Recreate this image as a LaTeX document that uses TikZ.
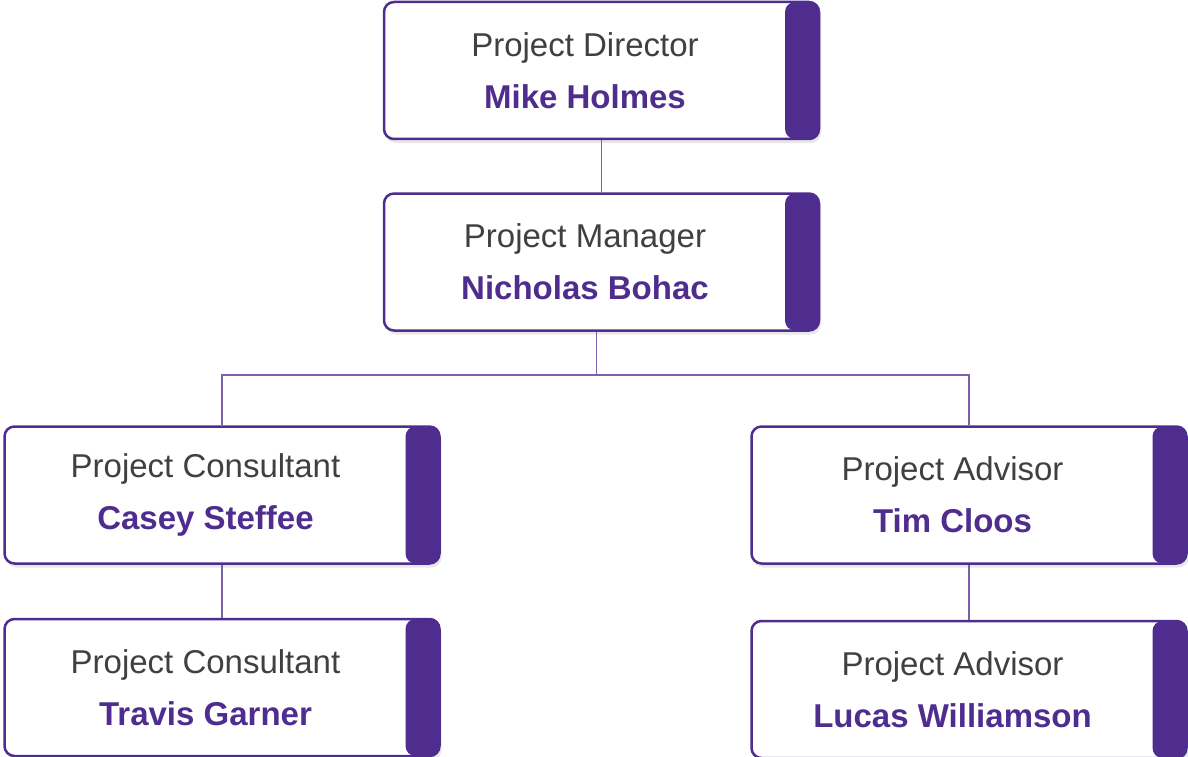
\documentclass[tikz,border=0pt]{standalone}
\usepackage{fontspec}
\setmainfont{Liberation Sans}
\usetikzlibrary{positioning,shadows}

\definecolor{orgpurple}{RGB}{79,45,143}
\definecolor{titlegray}{RGB}{64,64,64}

% title on top, name below, centred in the white part of the box
\newcommand{\orgentry}[2]{\parbox{402pt}{\centering{\color{titlegray}#1}\\{\color{orgpurple}\bfseries #2}}\hspace*{33pt}}

\begin{document}
\begin{tikzpicture}[x=1pt,y=1pt,
    orgbox/.style={rectangle,rounded corners=10pt,draw=orgpurple,line width=2.5pt,
      fill=white,minimum width=435pt,minimum height=137pt,inner xsep=0pt,
      font=\fontsize{33pt}{52pt}\selectfont,
      drop shadow={shadow xshift=2pt,shadow yshift=-4pt,opacity=0.18},
      path picture={\fill[orgpurple] ([xshift=-34pt]path picture bounding box.south east)
        rectangle (path picture bounding box.north east);}},
    link/.style={draw=orgpurple!75,line width=1.5pt}]
      \useasboundingbox (0,0) rectangle (1188,-757);

      \node[orgbox] (dir) at (601.5,-70.5) {\orgentry{Project Director}{Mike Holmes}};
      \node[orgbox] (mgr) [below=52pt of dir] {\orgentry{Project Manager}{Nicholas Bohac}};

      \node[orgbox] (casey) at (222,-495) {\orgentry{Project Consultant}{Casey Steffee}};
      \node[orgbox] (travis) [below=53pt of casey] {\orgentry{Project Consultant}{Travis Garner}};

      \node[orgbox] (tim) at (969,-495) {\orgentry{Project Advisor}{Tim Cloos}};
      \node[orgbox] (lucas) [below=55pt of tim] {\orgentry{Project Advisor}{Lucas Williamson}};

      \coordinate (split) at ([xshift=-5pt,yshift=-43pt]mgr.south);

      \path[link]
      (dir) -- (mgr)
      ([xshift=-5pt]mgr.south) -- (split)
      (casey.north) |- (split) -| (tim.north)
      (casey) -- (travis)
      (tim) -- (lucas)
      ;
    \end{tikzpicture}
\end{document}
